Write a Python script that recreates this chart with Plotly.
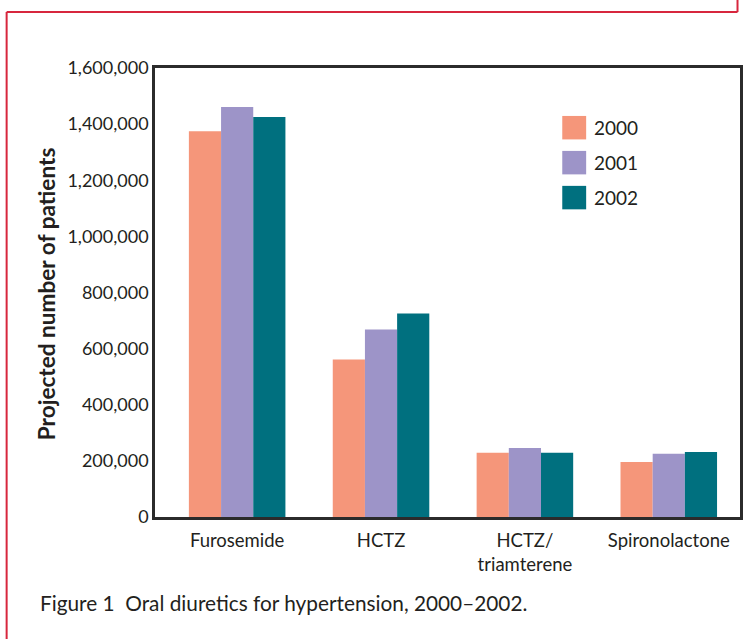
import plotly.graph_objects as go

categories = ["Furosemide", "HCTZ", "HCTZ/<br>triamterene", "Spironolactone"]
years = ["2000", "2001", "2002"]
values_2000 = [1375000, 561000, 229000, 196000]
values_2001 = [1461000, 668000, 246000, 225000]
values_2002 = [1425000, 725000, 229000, 232000]
series = [values_2000, values_2001, values_2002]
colors = ["#F5967A", "#9D94C8", "#00707F"]
y_ticks = [0, 200000, 400000, 600000, 800000, 1000000, 1200000, 1400000, 1600000]
y_title = "Projected number of patients"
caption = "Figure 1  Oral diuretics for hypertension, 2000–2002."

W, H = 744, 639
L, R, T, B = 155, 742.5, 68, 517.5
FONT = "Lato"
TXT = "#231f20"


def px(x):
    return (x - L) / (R - L)


def py(y):
    return (B - y) / (B - T)


fig = go.Figure()
for name, vals, col in zip(years, series, colors):
    fig.add_trace(go.Bar(x=list(range(len(categories))), y=vals, name=name,
                         marker=dict(color=col, line=dict(width=0)),
                         showlegend=False))

shapes = []
# red border
red = "#D7263D"
shapes.append(dict(type="line", xref="paper", yref="paper", x0=px(6), x1=px(6),
                   y0=py(12), y1=py(645), line=dict(color=red, width=2)))
shapes.append(dict(type="line", xref="paper", yref="paper", x0=px(6), x1=px(740),
                   y0=py(12), y1=py(12), line=dict(color=red, width=2)))
shapes.append(dict(type="line", xref="paper", yref="paper", x0=px(740), x1=px(740),
                   y0=py(12), y1=py(-5), line=dict(color=red, width=2)))

annotations = []
# manual legend
for i, (name, col) in enumerate(zip(years, colors)):
    top = 116 + 35 * i
    shapes.append(dict(type="rect", xref="paper", yref="paper",
                       x0=px(564), x1=px(588), y0=py(top), y1=py(top + 23.5),
                       fillcolor=col, line=dict(width=0)))
    annotations.append(dict(xref="paper", yref="paper", x=px(594), y=py(top + 12),
                            text=name, showarrow=False, xanchor="left", yanchor="middle",
                            font=dict(family=FONT, size=19, color=TXT)))

annotations.append(dict(xref="paper", yref="paper", x=px(46), y=py(294),
                        text="<b>" + y_title + "</b>", textangle=-90, showarrow=False,
                        xanchor="center", yanchor="middle",
                        font=dict(family=FONT, size=22.6, color=TXT)))
annotations.append(dict(xref="paper", yref="paper", x=px(38), y=py(603),
                        text=caption, showarrow=False, xanchor="left", yanchor="middle",
                        font=dict(family=FONT, size=20.8, color=TXT)))

fig.update_layout(
    width=W, height=H,
    margin=dict(l=L, r=W - R, t=T, b=H - B, pad=0),
    paper_bgcolor="white", plot_bgcolor="white",
    barmode="group", bargap=0.329, bargroupgap=0,
    shapes=shapes, annotations=annotations,
    font=dict(family=FONT, size=18, color=TXT),
)
fig.update_xaxes(
    range=[-0.571, 3.495], tickmode="array",
    tickvals=list(range(len(categories))), ticktext=categories,
    showline=True, mirror=True, linecolor="#2b2b2b", linewidth=2.5,
    ticks="", showgrid=False, zeroline=False, ticklabelstandoff=5,
    tickfont=dict(family=FONT, size=18.5, color=TXT),
)
fig.update_yaxes(
    range=[0, 1600000], tickmode="array", tickvals=y_ticks, tickformat=",",
    showline=True, mirror=True, linecolor="#2b2b2b", linewidth=2.5,
    ticks="", showgrid=False, zeroline=False,
    tickfont=dict(family=FONT, size=18, color=TXT),
)

fig.write_html("out.html", config={"displayModeBar": False},
               post_script="document.body.style.margin='0';document.body.style.overflow='hidden';")
